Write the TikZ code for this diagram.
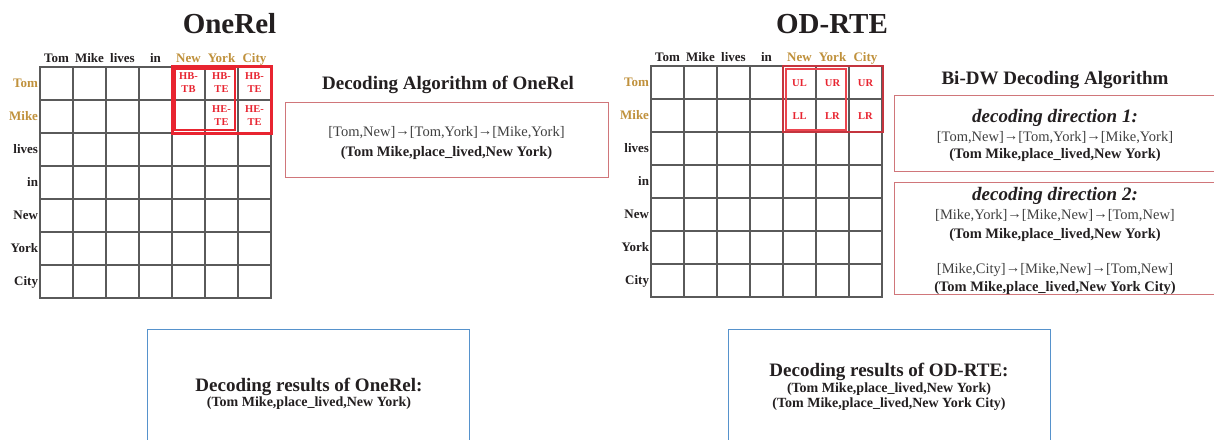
\documentclass[tikz,border=0pt]{standalone}
\usepackage{fontspec}
\setmainfont{Liberation Serif}

\definecolor{gridgray}{RGB}{90,90,90}
\definecolor{gold}{RGB}{192,145,60}
\definecolor{tagred}{RGB}{232,36,48}
\definecolor{darktag}{RGB}{196,52,62}
\definecolor{boxpink}{RGB}{208,118,122}
\definecolor{boxblue}{RGB}{86,146,204}
\definecolor{ink}{RGB}{35,31,32}
\definecolor{softink}{RGB}{64,64,64}

\newcommand\fs[2]{\fontsize{#1}{#2}\selectfont}
\newcommand\nextarrow{\raisebox{1pt}{→}}

% token table: #1 name prefix, #2/#3 top-left corner
\newcommand\tokengrid[3]{%
  \foreach \i in {0,...,7} {
    \draw[gridline] ({#2+33*\i},#3) -- ({#2+33*\i},{#3+231});
    \draw[gridline] (#2,{#3+33*\i}) -- ({#2+231},{#3+33*\i});
  }
  \foreach \w/\s [count=\k from 0] in {Tom/word,Mike/word,lives/word,in/word,New/goldword,York/goldword,City/goldword} {
    \node[\s] (#1col\k) at ({#2+16.5+33*\k},{#3-4.5}) {\w};
  }
  \foreach \w/\s [count=\k from 0] in {Tom/goldrow,Mike/goldrow,lives/rowword,in/rowword,New/rowword,York/rowword,City/rowword} {
    \node[\s] (#1row\k) at ({#2-2},{#3+20+33*\k}) {\w};
  }
}

\begin{document}
\begin{tikzpicture}[x=1pt,y=-1pt,
  every node/.style={inner sep=0pt, outer sep=0pt, text=ink},
  title/.style={font=\fs{29}{32}\bfseries, anchor=base},
  heading/.style={font=\fs{19}{22}\bfseries, anchor=base},
  word/.style={font=\fs{13}{15}\bfseries, anchor=base},
  goldword/.style={word, text=gold},
  rowword/.style={word, anchor=base east},
  goldrow/.style={rowword, text=gold},
  tag/.style={font=\fs{10.5}{13}\bfseries, text=tagred, align=center},
  chain/.style={font=\fs{14.5}{17}, text=softink, anchor=base},
  triple/.style={font=\fs{14.5}{17}\bfseries, anchor=base},
  result/.style={font=\fs{14}{16}\bfseries, anchor=base},
  dirline/.style={font=\fs{19}{22}\bfseries\itshape, anchor=base},
  gridline/.style={draw=gridgray, line width=1.6pt, line cap=rect},
  algbox/.style={draw=boxpink, line width=1pt},
  resbox/.style={draw=boxblue, line width=1pt}]

\useasboundingbox[fill=white] (0,0) rectangle (1214,439);

% ---------------- OneRel ----------------
\node[title] (titleL) at (229.5,33) {OneRel};
\tokengrid{L}{40}{67}

\draw[tagred, line width=3pt] (172,66) rectangle (271,133);
\draw[tagred, line width=1.4pt] (175,69) rectangle (235,130);
\node[tag] (hbtb) at (188.5,82.5) {HB-\\TB};
\node[tag] (hbte1) at (221.5,82.5) {HB-\\TE};
\node[tag] (hbte2) at (254.5,82.5) {HB-\\TE};
\node[tag] (hete1) at (221.5,115.5) {HE-\\TE};
\node[tag] (hete2) at (254.5,115.5) {HE-\\TE};

\node[heading] (algL) at (448,89) {Decoding Algorithm of OneRel};
\draw[algbox] (285,102) rectangle (608,177);
\node[chain] (pathL) at (446.5,136.5) {[Tom,New]\nextarrow[Tom,York]\nextarrow[Mike,York]};
\node[triple] (tripL) at (446.5,156.5) {(Tom Mike,place\_lived,New York)};

\draw[resbox] (147,329) -- (147,445) (147,329) -- (469,329) -- (469,445);
\node[heading] (resL) at (309,391.5) {Decoding results of OneRel:};
\node[result] (resL1) at (309,406) {(Tom Mike,place\_lived,New York)};

% ---------------- OD-RTE ----------------
\node[title] (titleR) at (832,33) {OD-RTE};
\tokengrid{R}{651}{66}

\draw[darktag, line width=2.4pt] (783,66) rectangle (883,132);
\draw[tagred!85, line width=1.4pt] (786,69) rectangle (846,130);
\node[tag] (ul) at (799.5,83) {UL};
\node[tag] (ur1) at (832.5,83) {UR};
\node[tag] (ur2) at (865.5,83) {UR};
\node[tag] (ll) at (799.5,116) {LL};
\node[tag] (lr1) at (832.5,116) {LR};
\node[tag] (lr2) at (865.5,116) {LR};

\node[heading] (algR) at (1055,84) {Bi-DW Decoding Algorithm};

\draw[algbox] (1220,95) -- (894,95) -- (894,171) -- (1220,171);
\node[dirline] (dir1) at (1055,122) {decoding direction 1:};
\node[chain] (path1) at (1055,141.5) {[Tom,New]\nextarrow[Tom,York]\nextarrow[Mike,York]};
\node[triple] (trip1) at (1055,158) {(Tom Mike,place\_lived,New York)};

\draw[algbox] (1220,182) -- (894,182) -- (894,294) -- (1220,294);
\node[dirline] (dir2) at (1055,200) {decoding direction 2:};
\node[chain] (path2) at (1055,219.5) {[Mike,York]\nextarrow[Mike,New]\nextarrow[Tom,New]};
\node[triple] (trip2) at (1055,238.5) {(Tom Mike,place\_lived,New York)};
\node[chain] (path3) at (1055,273.5) {[Mike,City]\nextarrow[Mike,New]\nextarrow[Tom,New]};
\node[triple] (trip3) at (1055,291.5) {(Tom Mike,place\_lived,New York City)};

\draw[resbox] (728,329) -- (728,445) (728,329) -- (1050,329) -- (1050,445);
\node[heading] (resR) at (889,376.5) {Decoding results of OD-RTE:};
\node[result] (resR1) at (889,392.5) {(Tom Mike,place\_lived,New York)};
\node[result] (resR2) at (889,407) {(Tom Mike,place\_lived,New York City)};
\end{tikzpicture}
\end{document}
